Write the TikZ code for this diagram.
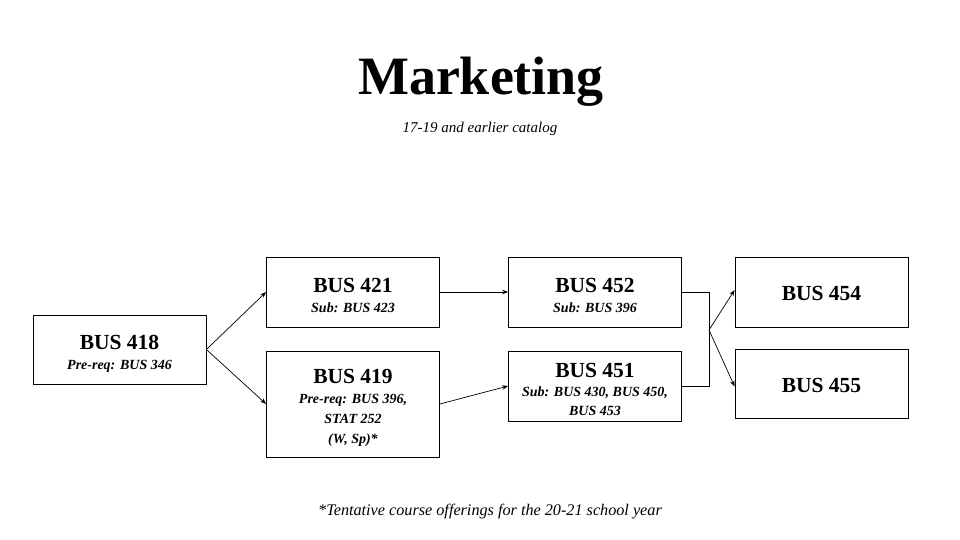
\documentclass[tikz,border=0pt]{standalone}
\usepackage{fontspec}
\setmainfont{Liberation Serif}
\usetikzlibrary{arrows.meta}
\begin{document}
\begin{tikzpicture}[x=1pt,y=-1pt,
  box/.style={draw=black, line width=0.8pt, fill=white, inner sep=0pt, align=center,
    minimum width=173pt, font=\fontsize{21.5}{24}\selectfont\bfseries},
  arr/.style={line width=0.7pt, -{Stealth[length=6pt,width=4.5pt]}},
  conn/.style={line width=0.7pt},
  ttl/.style={font=\fontsize{54}{60}\selectfont\bfseries},
  note/.style={font=\fontsize{15}{18}\selectfont\itshape}
]
\newcommand{\subl}[1]{{\fontsize{14}{19}\selectfont\bfseries\itshape #1}}
\newcommand{\tstrut}[1]{\rule{0pt}{#1}}
\useasboundingbox (0,0) rectangle (960,540);
\fill[white] (0,0) rectangle (960,540);

\node[ttl] (title) at (481,82) {Marketing};
\node[note] (subtitle) at (480,129) {17-19 and earlier catalog};
\node[note, font=\fontsize{16.2}{18}\selectfont\itshape] (foot) at (490,512) {*Tentative course offerings for the 20-21 school year};

\node[box, minimum height=69pt] (b418) at (119.5,349.5) {\tstrut{22pt}BUS 418\\[-4pt]\subl{Pre-req: BUS 346}};
\node[box, minimum height=70pt] (b421) at (353,292) {\tstrut{22pt}BUS 421\\[-4pt]\subl{Sub: BUS 423}};
\node[box, minimum height=106pt] (b419) at (353,404) {\tstrut{22pt}BUS 419\\[-4pt]\subl{Pre-req: BUS 396,}\\[-4pt]\subl{STAT 252}\\[-4pt]\subl{(W, Sp)*}};
\node[box, minimum height=70pt] (b452) at (595,292) {\tstrut{22pt}BUS 452\\[-4pt]\subl{Sub: BUS 396}};
\node[box, minimum height=70pt] (b451) at (595,386) {\tstrut{21pt}BUS 451\\[-5pt]\subl{Sub: BUS 430, BUS 450,}\\[-5pt]\subl{BUS 453}};
\node[box, minimum height=70pt] (b454) at (821.5,292) {\tstrut{18pt}BUS 454};
\node[box, minimum height=69pt] (b455) at (821.5,383.5) {\tstrut{18pt}BUS 455};

\coordinate (j) at (709,330);

\draw[arr] (b418.east) -- (b421.west);
\draw[arr] (b418.east) -- (b419.west);
\draw[arr] (b421.east) -- (b452.west);
\draw[arr] (b419.east) -- (b451.west);
\draw[conn] (b452.east) -| (j) |- (b451.east);
\draw[arr] (j) -- ([yshift=2pt]b454.west);
\draw[arr] (j) -- ([yshift=-3pt]b455.west);
\end{tikzpicture}
\end{document}
